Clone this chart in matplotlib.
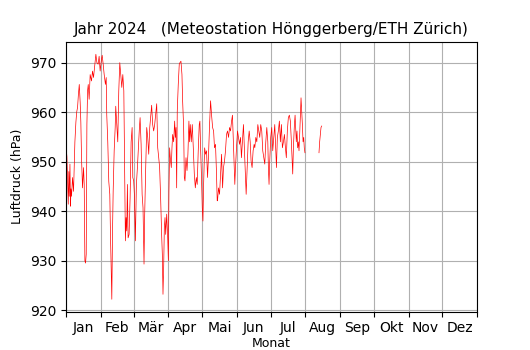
import numpy as np
import matplotlib
matplotlib.use("Agg")
import matplotlib.pyplot as plt

# (Tag im Jahr, Luftdruck hPa), Tag 0 = 1. Januar 2024
januar = [
    (0.0, 952.5), (0.6, 951.0), (1.2, 946.0), (1.8, 941.4), (2.3, 948.0), (2.7, 943.0),
    (3.3, 949.5), (3.8, 941.0), (4.2, 944.5), (4.7, 943.0), (5.6, 946.8), (6.5, 944.0),
    (7.1, 949.0), (7.7, 954.0), (8.6, 958.0), (9.3, 960.0), (10.1, 961.0), (10.8, 963.5),
    (11.6, 965.6), (12.4, 962.0), (13.0, 958.0), (13.6, 950.8), (14.5, 944.7), (15.4, 948.8),
    (16.0, 945.4), (16.6, 930.0), (17.2, 929.5), (17.8, 931.3), (18.4, 957.5), (19.0, 964.3),
    (19.6, 965.6), (20.4, 962.6), (21.3, 967.6), (22.5, 966.3), (23.4, 968.3), (24.3, 967.0),
    (25.5, 969.7), (26.4, 971.7), (27.3, 970.0), (28.4, 969.7), (29.3, 971.3), (30.2, 968.3),
]
februar = [
    (31.4, 970.7), (32.0, 971.5), (32.9, 969.7), (33.8, 967.6), (34.9, 965.6), (35.6, 967.0),
    (36.1, 959.4), (37.0, 954.0), (37.9, 946.0), (38.8, 943.4), (39.4, 935.3), (40.0, 928.6),
    (40.6, 922.2), (41.2, 935.3), (41.8, 944.0), (42.7, 952.2), (43.6, 956.9), (44.1, 961.2),
    (45.0, 957.5), (45.9, 954.0), (46.8, 964.3), (47.7, 970.0), (48.6, 967.6), (49.5, 965.0),
    (50.4, 967.6), (51.3, 964.3), (52.1, 947.5), (52.7, 934.0), (53.3, 938.7), (53.9, 936.0),
    (54.5, 945.4), (55.1, 934.6), (56.0, 935.3), (56.9, 942.7), (57.8, 954.0), (58.7, 956.9),
    (59.3, 946.8),
]
maerz = [
    (60.1, 946.1), (60.7, 943.4), (61.6, 934.0), (62.5, 945.4), (63.4, 948.8), (64.3, 952.8),
    (65.2, 956.9), (65.8, 958.9), (66.7, 953.5), (67.6, 943.4), (68.4, 940.7), (69.3, 929.3),
    (69.9, 939.4), (70.8, 948.8), (71.7, 956.9), (72.6, 954.9), (73.5, 951.5), (74.4, 956.9),
    (75.3, 959.4), (76.1, 961.4), (77.0, 957.5), (77.9, 956.2), (78.8, 957.5), (79.7, 959.7),
    (80.6, 961.7), (81.5, 952.8), (82.4, 950.8), (83.2, 948.8), (84.1, 942.7), (85.0, 935.3),
    (85.6, 931.3), (86.2, 923.2), (86.8, 928.6), (87.4, 936.7), (88.0, 938.7), (88.6, 935.3),
    (89.5, 939.4), (90.4, 934.6),
]
april = [
    (91.0, 930.0), (91.5, 944.0), (92.1, 952.8), (92.7, 950.8), (93.6, 948.8), (94.2, 952.8),
    (94.8, 955.5), (95.7, 954.0), (96.6, 958.2), (97.2, 954.9), (97.8, 956.9), (98.4, 944.7),
    (98.9, 960.1), (99.8, 965.6), (100.7, 969.7), (101.3, 970.0), (102.2, 970.3), (103.1, 967.6),
    (103.7, 962.3), (104.6, 956.9), (105.2, 946.8), (105.8, 946.1), (106.7, 950.8), (107.6, 948.2),
    (108.4, 951.5), (109.3, 958.2), (109.9, 954.0), (110.5, 957.5), (111.4, 954.0), (112.3, 957.5),
    (113.2, 952.8), (114.1, 947.5), (115.0, 944.7), (115.9, 946.8), (116.7, 945.4), (117.6, 952.2),
    (118.5, 957.5), (119.1, 958.2), (119.7, 952.8), (120.6, 946.1),
]
mai = [
    (121.2, 940.7), (121.8, 938.0), (122.4, 945.4), (123.3, 952.8), (124.1, 951.5), (125.0, 952.2),
    (125.9, 946.8), (126.8, 951.5), (127.7, 957.5), (128.6, 962.3), (129.5, 959.4), (130.4, 956.9),
    (131.3, 956.2), (132.1, 952.8), (133.0, 953.5), (133.9, 947.5), (134.5, 942.1), (134.8, 942.1),
    (135.7, 944.7), (136.6, 943.4), (137.5, 947.5), (138.4, 951.5), (139.3, 944.7), (140.1, 948.8),
    (141.0, 950.1), (141.9, 952.2), (142.8, 955.5), (143.7, 956.2), (144.6, 954.9), (145.5, 956.9),
    (146.4, 956.2), (147.3, 958.2), (148.1, 959.4), (148.7, 955.5), (149.6, 950.1), (150.2, 945.4),
    (150.8, 948.8), (151.7, 952.8),
]
juni = [
    (152.6, 956.2), (153.5, 954.9), (154.4, 953.5), (155.3, 954.9), (156.1, 950.8), (157.0, 954.0),
    (157.9, 957.5), (158.8, 952.2), (159.4, 948.2), (160.3, 943.4), (161.2, 948.8), (162.1, 954.0),
    (163.0, 956.2), (163.9, 954.0), (164.7, 950.1), (165.6, 948.8), (166.5, 952.2), (167.4, 953.5),
    (168.0, 952.8), (168.9, 954.9), (169.8, 954.0), (170.7, 957.5), (171.6, 956.2), (172.4, 954.9),
    (173.3, 957.5), (174.2, 956.2), (175.1, 952.2), (176.0, 950.8), (176.9, 949.5), (177.8, 954.0),
    (178.7, 956.9), (179.6, 954.0), (180.1, 948.8), (180.7, 945.4), (181.3, 950.1),
]
juli = [
    (182.2, 954.9), (183.1, 956.9), (184.0, 952.2), (184.9, 954.9), (185.8, 957.5), (186.7, 952.2),
    (187.3, 948.8), (188.1, 954.9), (189.0, 956.2), (189.9, 958.2), (190.8, 954.0), (191.7, 957.5),
    (192.6, 952.8), (193.5, 954.0), (194.4, 955.5), (195.3, 952.8), (196.1, 950.8), (197.0, 956.2),
    (197.9, 958.9), (198.8, 959.4), (199.7, 958.2), (200.6, 954.0), (201.5, 948.8), (201.8, 947.5),
    (202.4, 952.8), (203.3, 957.5), (203.9, 959.4), (204.4, 956.9), (205.0, 954.0), (205.6, 956.2),
    (206.2, 952.8), (206.8, 954.0), (207.4, 952.2), (208.0, 955.5), (208.6, 959.4), (209.2, 962.9),
    (209.8, 960.2), (210.4, 957.5), (211.0, 954.0), (211.6, 954.9), (212.1, 952.8), (212.7, 951.8),
]
# Datenluecke Anfang August (NaN unterbricht die Linie)
august = [
    (219.0, np.nan),
    (225.2, 951.8), (225.8, 954.0), (226.4, 955.5), (227.0, 956.9), (227.6, 957.2),
]

monate = ['Jan', 'Feb', 'Mär', 'Apr', 'Mai', 'Jun', 'Jul', 'Aug', 'Sep', 'Okt', 'Nov', 'Dez']
monatsanfang = [0, 31, 60, 91, 121, 152, 182, 213, 244, 274, 305, 335, 366]

daten = np.array(januar + februar + maerz + april + mai + juni + juli + august)
tage = daten[:, 0]
luftdruck = daten[:, 1]


fig, ax = plt.subplots(figsize=(5.3, 3.5), dpi=100)

ax.plot(tage, luftdruck, color='red', linewidth=0.5)

# Monatsgrenzen als Hauptticks (Gitter), Monatsnamen in der Monatsmitte
ax.set_xlim(monatsanfang[0], monatsanfang[-1])
ax.set_xticks(monatsanfang)
ax.set_xticklabels([])
mitte = [(a + b) / 2 for a, b in zip(monatsanfang[:-1], monatsanfang[1:])]
ax.set_xticks(mitte, minor=True)
ax.set_xticklabels(monate, minor=True)
ax.tick_params(axis='x', which='minor', length=0, pad=7)

ax.grid(True)

ax.set_title('Jahr 2024   (Meteostation Hönggerberg/ETH Zürich)', fontsize=11)
ax.set_xlabel('Monat', fontsize=9, labelpad=1)
ax.set_ylabel('Luftdruck (hPa)', fontsize=9)

fig.savefig('out.png', dpi=100)
plt.close(fig)
